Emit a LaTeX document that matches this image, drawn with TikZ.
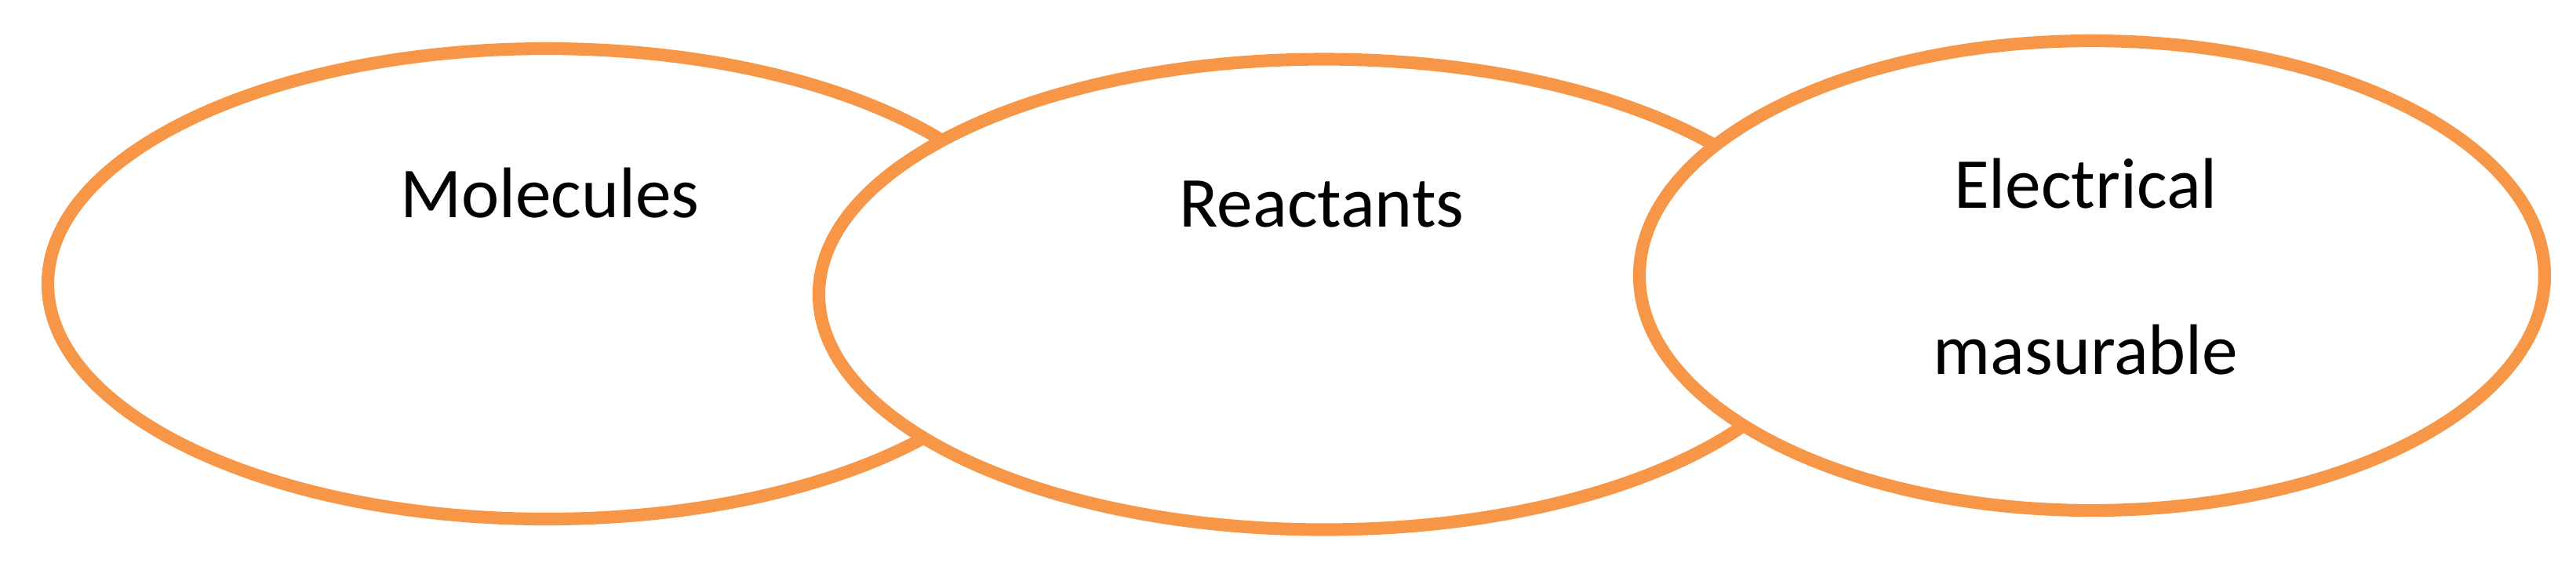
\documentclass[tikz,border=0pt]{standalone}
\usepackage{fontspec}
\setmainfont{Carlito}
\usetikzlibrary{shapes.geometric}
\definecolor{peach}{HTML}{F79646}
\tikzset{every node/.style={font=\fontsize{26}{31}\selectfont},
	blob/.style={ellipse, draw=peach, line width=4.6pt, fill=white, inner sep=0pt}}

\begin{document}
\begin{tikzpicture}
	\useasboundingbox (0,0) rectangle (32.84,-7.26);
	% three overlapping ellipses, later ones on top
	\node[blob, minimum width=12.72cm, minimum height=6cm] (mol) at (6.97,-3.62) {};
	\node[blob, minimum width=12.88cm, minimum height=6cm] (rea) at (16.88,-3.755) {};
	\node[blob, minimum width=11.54cm, minimum height=5.99cm] (ele) at (26.67,-3.515) {};
	\node[anchor=base] (moltxt) at (7.01,-2.77) {Molecules};
	\node[anchor=base] (reatxt) at (16.85,-2.89) {Reactants};
	\node[anchor=base] (eletxt) at (26.59,-2.65) {Electrical};
	\node[anchor=base] (mastxt) at (26.59,-4.77) {masurable};
\end{tikzpicture}
\end{document}
